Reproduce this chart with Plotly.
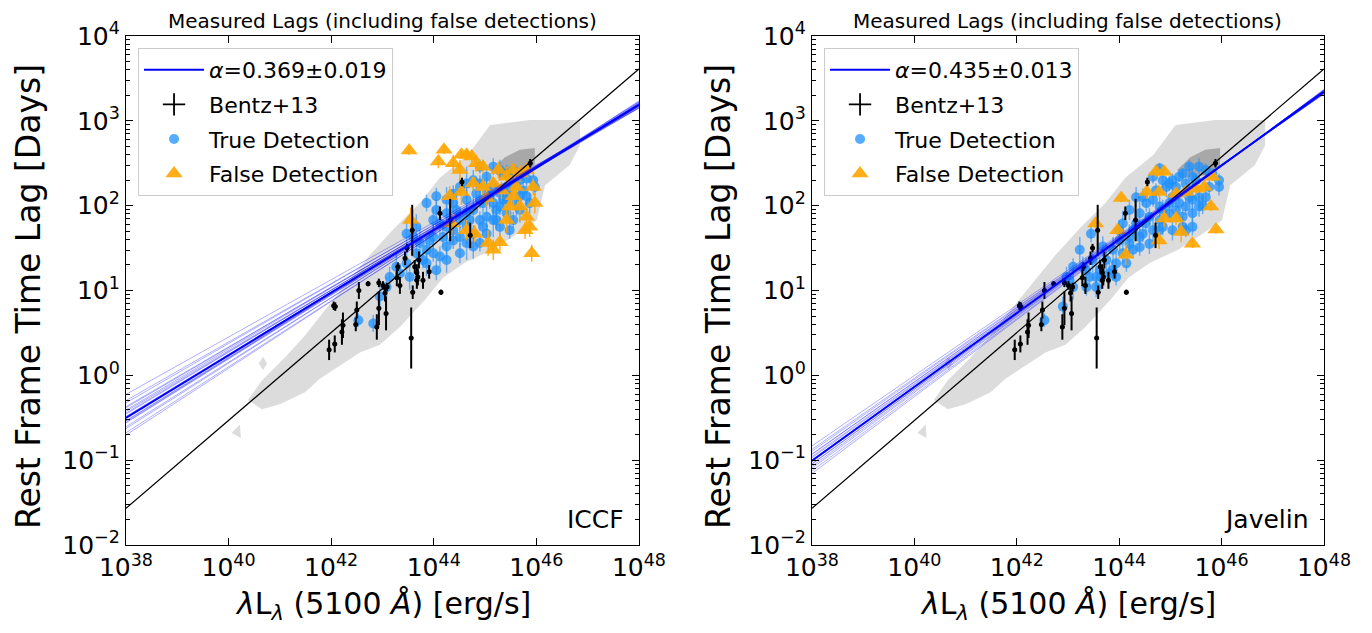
import numpy as np
import plotly.graph_objs as go

# ---- data (log10 values) ----
# Bentz+13 reverberation sample: log L5100, log tau, error (dex)
bentz_logL = [41.96, 42.07, 42.05, 42.08, 42.21, 42.23, 42.48, 42.50, 42.54, 42.72,
              42.89, 42.93, 42.93, 43.01, 43.07, 43.09, 43.05, 43.28, 43.30, 43.34,
              43.44, 43.48, 43.58, 43.59, 43.63, 43.67, 43.69, 43.67, 43.71, 43.79,
              43.91, 44.14, 44.12, 44.32, 44.55, 44.71, 45.88, 43.56]
bentz_logtau = [0.30, 0.37, 0.82, 0.81, 0.51, 0.59, 0.60, 0.77, 1.00, 1.08,
                0.57, 0.79, 1.09, 1.06, 0.73, 1.04, 0.97, 1.15, 1.28, 1.06,
                1.38, 1.50, 1.71, 0.98, 1.28, 1.21, 1.16, 1.12, 1.36, 1.12,
                1.22, 0.98, 1.91, 1.83, 2.28, 1.65, 2.50, 0.44]
bentz_err = [0.12, 0.10, 0.05, 0.05, 0.15, 0.15, 0.08, 0.10, 0.10, 0.03,
             0.15, 0.20, 0.05, 0.05, 0.20, 0.05, 0.10, 0.10, 0.05, 0.10,
             0.08, 0.05, 0.30, 0.08, 0.08, 0.10, 0.10, 0.10, 0.10, 0.10,
             0.08, 0.03, 0.08, 0.25, 0.05, 0.15, 0.05, 0.36]

# ICCF lags
iccf_true_logL = [44.05, 44.25, 44.38, 44.51, 44.64, 44.77, 44.90, 45.03, 45.16, 45.29,
                  45.42, 45.55, 45.68, 45.81, 45.94, 45.97, 44.90, 45.16, 45.29, 45.42,
                  45.55, 45.03, 43.99, 44.12, 44.25, 44.38, 44.51, 44.64, 44.77, 44.90,
                  45.03, 45.16, 45.29, 45.42, 45.55, 45.68, 45.81, 43.47, 43.60, 43.73,
                  43.86, 43.99, 44.12, 44.25, 44.38, 44.51, 44.64, 44.77, 44.90, 45.03,
                  43.86, 44.05, 43.79, 43.27, 43.34, 43.47, 43.53, 43.66, 43.14, 42.95,
                  42.82, 42.53, 43.08, 44.38, 44.64, 44.90, 45.16, 45.42, 45.68, 44.64,
                  45.29, 43.99, 44.25,
                  44.83, 44.96, 45.09, 45.22, 45.35, 45.48, 45.61, 45.74, 45.87, 44.70,
                  44.96, 45.22, 45.48, 44.44, 44.18, 43.92, 43.66, 44.05, 43.86, 44.25,
                  44.51, 44.77]
iccf_true_logtau = [2.11, 2.07, 2.03, 2.22, 2.26, 2.30, 2.26, 2.18, 2.22, 2.15,
                    2.22, 2.26, 2.30, 2.32, 2.30, 2.22, 2.46, 2.46, 2.42, 2.38,
                    2.42, 2.34, 1.83, 1.79, 1.75, 1.71, 1.83, 1.91, 1.95, 1.83,
                    1.87, 1.83, 1.99, 1.91, 1.83, 1.95, 2.11, 1.67, 1.63, 1.56,
                    1.48, 1.44, 1.40, 1.52, 1.59, 1.63, 1.56, 1.52, 1.56, 1.67,
                    1.32, 1.24, 1.36, 1.28, 1.20, 1.32, 1.16, 1.44, 1.16, 0.93,
                    0.61, 0.65, 1.04, 2.14, 2.07, 2.07, 2.03, 2.07, 2.11, 1.75,
                    1.75, 1.63, 1.91,
                    2.14, 2.03, 2.11, 1.95, 2.07, 2.14, 2.03, 2.18, 2.03, 1.83,
                    1.75, 1.83, 1.71, 1.95, 1.63, 1.59, 1.75, 1.95, 2.03, 1.36,
                    1.44, 1.67]
iccf_true_err = [0.10, 0.15, 0.12, 0.10, 0.20, 0.12, 0.10, 0.15, 0.12, 0.10,
                 0.10, 0.12, 0.15, 0.10, 0.08, 0.10, 0.08, 0.10, 0.12, 0.10,
                 0.08, 0.12, 0.15, 0.12, 0.20, 0.15, 0.10, 0.12, 0.15, 0.10,
                 0.12, 0.20, 0.10, 0.12, 0.10, 0.15, 0.10, 0.15, 0.12, 0.20,
                 0.15, 0.10, 0.12, 0.15, 0.10, 0.12, 0.20, 0.15, 0.10, 0.12,
                 0.15, 0.12, 0.10, 0.15, 0.10, 0.12, 0.15, 0.10, 0.12, 0.15,
                 0.10, 0.08, 0.12, 0.10, 0.12, 0.10, 0.15, 0.10, 0.12, 0.20,
                 0.12, 0.15, 0.10,
                 0.10, 0.12, 0.15, 0.10, 0.12, 0.10, 0.15, 0.10, 0.12, 0.15,
                 0.10, 0.12, 0.10, 0.15, 0.12, 0.10, 0.15, 0.12, 0.10, 0.15,
                 0.12, 0.10]
iccf_false_logL = [43.52, 44.20, 44.09, 44.38, 44.54, 44.64, 44.74, 44.83, 44.51, 44.96,
                   45.26, 45.42, 45.55, 45.68, 45.81, 45.94, 45.97, 44.54, 44.31, 44.96,
                   45.16, 45.55, 45.68, 45.48, 45.42, 45.81, 45.87, 45.78, 44.64, 44.80,
                   45.06, 45.29, 45.16, 45.91, 43.55, 44.35, 45.03, 44.77, 45.32, 45.61]
iccf_false_logtau = [2.65, 2.66, 2.52, 2.50, 2.60, 2.60, 2.58, 2.50, 2.42, 2.46,
                     2.42, 2.34, 2.42, 2.38, 2.42, 2.22, 2.03, 2.16, 2.11, 2.22,
                     2.26, 2.11, 1.99, 1.99, 1.83, 1.87, 1.75, 1.71, 1.71, 1.67,
                     1.56, 1.57, 1.48, 1.44, 1.83, 1.79, 2.09, 2.26, 2.18, 2.22]
iccf_false_err = [0.05, 0.05, 0.08, 0.10, 0.05, 0.06, 0.08, 0.10, 0.12, 0.08,
                  0.10, 0.12, 0.08, 0.10, 0.06, 0.10, 0.12, 0.15, 0.12, 0.10,
                  0.08, 0.12, 0.10, 0.12, 0.15, 0.10, 0.12, 0.10, 0.12, 0.10,
                  0.15, 0.10, 0.12, 0.10, 0.15, 0.12, 0.10, 0.08, 0.10, 0.08]

# Javelin lags
jav_true_logL = [44.66, 44.85, 45.04, 45.24, 45.37, 45.56, 45.69, 45.82, 45.95, 45.95,
                 45.11, 44.92, 45.30, 45.43, 44.79, 44.33, 44.53, 44.66, 44.79, 44.98,
                 45.17, 45.30, 45.43, 45.56, 45.69, 44.20, 44.40, 44.59, 44.79, 44.98,
                 45.24, 45.43, 45.56, 45.43, 45.30, 45.04, 44.07, 44.27, 44.46, 44.66,
                 44.85, 44.01, 44.20, 44.40, 44.59, 43.88, 44.07, 44.27, 43.75, 43.94,
                 44.14, 43.62, 43.81, 43.42, 43.23, 43.45, 43.29, 43.10, 42.97, 43.10,
                 43.36, 42.90, 42.54, 43.65, 43.55, 43.94,
                 44.98, 45.17, 45.50, 45.76, 44.72, 44.46, 45.04, 45.37, 45.63, 44.85,
                 45.11, 44.52, 44.78, 44.33, 44.00, 44.20, 44.40, 43.68, 43.48, 43.87,
                 43.35, 43.03, 43.55, 45.24]
jav_true_logtau = [2.34, 2.30, 2.30, 2.38, 2.46, 2.46, 2.42, 2.38, 2.30, 2.22,
                   2.22, 2.22, 2.26, 2.34, 2.44, 2.10, 2.03, 2.07, 1.99, 2.03,
                   2.03, 1.99, 2.07, 2.10, 2.10, 1.95, 1.91, 1.87, 1.83, 1.91,
                   1.87, 1.91, 1.99, 1.75, 1.71, 1.71, 1.79, 1.71, 1.67, 1.71,
                   1.75, 1.59, 1.55, 1.51, 1.55, 1.48, 1.44, 1.48, 1.36, 1.32,
                   1.32, 1.24, 1.20, 1.16, 1.48, 1.67, 1.28, 1.28, 1.16, 1.04,
                   1.04, 0.81, 0.65, 1.16, 1.04, 1.16,
                   2.26, 2.34, 2.30, 2.22, 2.18, 2.10, 2.10, 2.10, 2.00, 1.95,
                   1.95, 1.79, 1.71, 1.79, 1.71, 1.63, 1.63, 1.52, 1.36, 1.24,
                   1.24, 1.12, 1.16, 1.75]
jav_true_err = [0.08, 0.10, 0.08, 0.06, 0.08, 0.10, 0.08, 0.06, 0.08, 0.10,
                0.10, 0.12, 0.08, 0.10, 0.06, 0.12, 0.10, 0.08, 0.12, 0.10,
                0.08, 0.10, 0.12, 0.08, 0.10, 0.12, 0.15, 0.10, 0.12, 0.10,
                0.08, 0.10, 0.12, 0.10, 0.08, 0.12, 0.15, 0.12, 0.10, 0.15,
                0.10, 0.12, 0.15, 0.10, 0.12, 0.15, 0.12, 0.10, 0.15, 0.12,
                0.10, 0.15, 0.12, 0.12, 0.15, 0.10, 0.12, 0.10, 0.12, 0.15,
                0.10, 0.12, 0.08, 0.15, 0.12, 0.10,
                0.08, 0.06, 0.08, 0.10, 0.08, 0.10, 0.12, 0.08, 0.10, 0.12,
                0.10, 0.12, 0.15, 0.10, 0.12, 0.15, 0.10, 0.12, 0.15, 0.12,
                0.15, 0.12, 0.15, 0.10]
jav_false_logL = [44.04, 43.54, 43.97, 44.13, 44.54, 44.78, 44.72, 44.88, 45.11, 44.88,
                  45.11, 45.21, 44.78, 45.43, 45.79, 45.89, 45.50, 45.66, 45.82, 45.30]
jav_false_logtau = [2.09, 1.79, 1.71, 1.42, 2.16, 2.16, 2.40, 2.40, 2.14, 1.85,
                    1.85, 1.69, 1.59, 1.55, 1.99, 1.72, 2.20, 2.22, 2.34, 2.16]
jav_false_err = [0.05, 0.06, 0.08, 0.12, 0.08, 0.06, 0.06, 0.05, 0.06, 0.10,
                 0.08, 0.12, 0.10, 0.05, 0.05, 0.05, 0.06, 0.06, 0.05, 0.06]

# simulated population density (log L, log tau outlines)
pop_outer_logL = [40.38, 40.65, 41.10, 41.49, 41.88, 42.27, 42.76, 43.24, 43.73, 44.12,
                  44.67, 45.10, 45.88, 46.85, 46.85, 46.65, 46.17, 46.01, 45.68, 45.15,
                  44.61, 44.18, 43.83, 43.34, 42.95, 42.56, 42.17, 41.78, 41.49, 41.00, 40.65]
pop_outer_logtau = [-0.29, -0.06, 0.21, 0.47, 0.77, 1.06, 1.42, 1.74, 2.03, 2.33,
                    2.60, 2.95, 3.01, 3.01, 2.71, 2.48, 2.24, 1.83, 1.69, 1.48,
                    1.33, 1.15, 0.89, 0.57, 0.36, 0.27, 0.12, -0.04, -0.20, -0.34, -0.40]
pop_blob1_logL = [40.59, 40.67, 40.75, 40.67]
pop_blob1_logtau = [0.14, 0.22, 0.14, 0.06]
pop_blob2_logL = [40.06, 40.22, 40.24]
pop_blob2_logtau = [-0.68, -0.58, -0.74]
pop_inner_logL = [45.13, 45.39, 45.68, 45.97, 45.97, 45.68, 45.29]
pop_inner_logtau = [2.42, 2.57, 2.66, 2.68, 2.48, 2.36, 2.33]

# relations: log tau at L = 10^44 and slope
bentz_K, bentz_alpha = 1.54, 0.518
iccf_K, iccf_alpha = 1.712, 0.369
jav_K, jav_alpha = 1.604, 0.435
# posterior draws: slope, log tau at L=10^45.5
iccf_draw_alpha = [0.338, 0.345, 0.350, 0.352, 0.355, 0.358, 0.360, 0.362, 0.365, 0.366,
                   0.368, 0.371, 0.372, 0.374, 0.376, 0.378, 0.381, 0.385, 0.389, 0.394]
iccf_draw_K = [2.31, 2.29, 2.30, 2.27, 2.28, 2.26, 2.29, 2.27, 2.28, 2.26,
               2.27, 2.28, 2.25, 2.27, 2.26, 2.28, 2.25, 2.26, 2.24, 2.25]
jav_draw_alpha = [0.415, 0.419, 0.422, 0.425, 0.427, 0.429, 0.431, 0.433, 0.435, 0.437,
                  0.439, 0.441, 0.443, 0.446, 0.449, 0.453]
jav_draw_K = [2.28, 2.27, 2.27, 2.26, 2.27, 2.26, 2.26, 2.25, 2.26, 2.26,
              2.25, 2.26, 2.25, 2.25, 2.24, 2.24]

x_ticks = [38, 40, 42, 44, 46, 48]
y_ticks = [-2, -1, 0, 1, 2, 3, 4]

BLUE_PT = "rgba(30,144,255,0.75)"
ORANGE = "rgba(255,165,0,0.9)"
GRAY = "#dcdcdc"
DARK_GRAY = "#a8a8a8"
FONT = "DejaVu Sans"


def lin(v):
    return [10.0 ** a for a in v]


def errs(y, e):
    plus = [10.0 ** (a + b) - 10.0 ** a for a, b in zip(y, e)]
    minus = [10.0 ** a - 10.0 ** (a - b) for a, b in zip(y, e)]
    return plus, minus


def line_y(K, a, piv, lx):
    return [10.0 ** (K + a * (v - piv)) for v in lx]


L_END = [38.0, 48.0]
data = []


def panel(xa, ya, leg, true_x, true_y, true_e, false_x, false_y, false_e,
          fitK, fita, drawA, drawK, alpha_label):
    ax = dict(xaxis=xa, yaxis=ya)
    # population density
    for px, py, col in [(pop_outer_logL, pop_outer_logtau, GRAY),
                        (pop_blob1_logL, pop_blob1_logtau, GRAY),
                        (pop_blob2_logL, pop_blob2_logtau, GRAY),
                        (pop_inner_logL, pop_inner_logtau, DARK_GRAY)]:
        data.append(go.Scatter(x=lin(px), y=lin(py), fill="toself", fillcolor=col,
                               mode="lines", line=dict(width=0, color=col),
                               showlegend=False, hoverinfo="skip", **ax))
    p, m = errs(true_y, true_e)
    data.append(go.Scatter(
        x=lin(true_x), y=lin(true_y), mode="markers",
        marker=dict(color=BLUE_PT, size=10, line=dict(width=0)),
        error_y=dict(type="data", array=p, arrayminus=m, color="rgba(30,144,255,0.6)",
                     thickness=1.5, width=0),
        name="True Detection", legend=leg, legendrank=3, legendgroup="c", **ax))
    p, m = errs(false_y, false_e)
    data.append(go.Scatter(
        x=lin(false_x), y=lin(false_y), mode="markers",
        marker=dict(color=ORANGE, size=15, symbol="triangle-up", line=dict(width=0)),
        error_y=dict(type="data", array=p, arrayminus=m, color=ORANGE,
                     thickness=1.5, width=0),
        name="False Detection", legend=leg, legendrank=4, legendgroup="d", **ax))
    p, m = errs(bentz_logtau, bentz_err)
    px_, mx_ = errs(bentz_logL, [0.04] * len(bentz_logL))
    data.append(go.Scatter(
        x=lin(bentz_logL), y=lin(bentz_logtau), mode="markers",
        marker=dict(color="black", size=5),
        error_y=dict(type="data", array=p, arrayminus=m, color="black",
                     thickness=2, width=0),
        error_x=dict(type="data", array=px_, arrayminus=mx_, color="black",
                     thickness=1.5, width=0),
        showlegend=False, **ax))
    data.append(go.Scatter(
        x=[None], y=[None], mode="markers",
        marker=dict(symbol="cross-thin", size=24, line=dict(width=1.8, color="black")),
        name="Bentz+13", legend=leg, legendrank=2, legendgroup="b", **ax))
    # Bentz relation
    data.append(go.Scatter(x=lin(L_END), y=line_y(bentz_K, bentz_alpha, 44, L_END),
                           mode="lines", line=dict(color="black", width=1.3),
                           showlegend=False, hoverinfo="skip", **ax))
    for a, k in zip(drawA, drawK):
        data.append(go.Scatter(x=lin(L_END), y=line_y(k, a, 45.5, L_END), mode="lines",
                               line=dict(color="rgba(0,0,255,0.4)", width=0.8),
                               showlegend=False, hoverinfo="skip", **ax))
    data.append(go.Scatter(x=lin(L_END), y=line_y(fitK, fita, 44, L_END), mode="lines",
                           line=dict(color="#0000ff", width=2),
                           name=alpha_label, legend=leg, legendrank=1, legendgroup="a", **ax))


panel("x", "y", "legend", iccf_true_logL, iccf_true_logtau, iccf_true_err,
      iccf_false_logL, iccf_false_logtau, iccf_false_err,
      iccf_K, iccf_alpha, iccf_draw_alpha, iccf_draw_K, "<i>α</i>=0.369±0.019")
panel("x2", "y2", "legend2", jav_true_logL, jav_true_logtau, jav_true_err,
      jav_false_logL, jav_false_logtau, jav_false_err,
      jav_K, jav_alpha, jav_draw_alpha, jav_draw_K, "<i>α</i>=0.435±0.013")


def xaxis(dom, anchor):
    return dict(type="log", range=[38, 48], domain=dom, anchor=anchor, automargin=False,
                tickvals=[10.0 ** t for t in x_ticks],
                ticktext=["10<sup>%d</sup>" % t for t in x_ticks],
                ticks="inside", ticklen=7, tickwidth=1, tickcolor="black",
                showline=True, linecolor="black", linewidth=1.2, mirror="allticks",
                showgrid=False, zeroline=False,
                tickfont=dict(family=FONT, size=25, color="black"))


minor_y = [m * 10.0 ** k for k in range(-2, 4) for m in range(2, 10)]


def yaxis(anchor):
    return dict(type="log", range=[-2, 4], domain=[0.1297, 0.9546], anchor=anchor,
                automargin=False,
                tickvals=[10.0 ** t for t in y_ticks],
                ticktext=["10<sup>%s</sup>" % str(t).replace("-", "−") for t in y_ticks],
                ticks="inside", ticklen=7, tickwidth=1, tickcolor="black",
                minor=dict(tickvals=minor_y, ticks="inside", ticklen=4,
                           tickcolor="black", tickwidth=1, showgrid=False),
                showline=True, linecolor="black", linewidth=1.2, mirror="allticks",
                showgrid=False, zeroline=False,
                tickfont=dict(family=FONT, size=25, color="black"))


def legend(x):
    return dict(x=x, y=0.9352, xanchor="left", yanchor="top",
                bgcolor="rgba(255,255,255,0.85)", bordercolor="#cccccc", borderwidth=1,
                font=dict(family=FONT, size=22, color="black"),
                itemwidth=60, tracegroupgap=3, traceorder="grouped")


annotations = []
for cx, yx, tag, tx in [(0.2762, 0.0148, "ICCF", 0.4558), (0.7817, 0.5236, "Javelin", 0.9609)]:
    annotations.append(dict(text="Measured Lags (including false detections)", x=cx, y=0.9792,
                            xref="paper", yref="paper", showarrow=False,
                            xanchor="center", yanchor="middle",
                            font=dict(family=FONT, size=20, color="black")))
    annotations.append(dict(text="<i>λ</i>L<sub><i>λ</i></sub> (5100 <i>Å</i>) [erg/s]",
                            x=cx, y=0.0324, xref="paper", yref="paper", showarrow=False,
                            xanchor="center", yanchor="middle",
                            font=dict(family=FONT, size=30, color="black")))
    annotations.append(dict(text="Rest Frame Time Lag [Days]", x=yx, y=0.5316, textangle=-90,
                            xref="paper", yref="paper", showarrow=False,
                            xanchor="center", yanchor="middle",
                            font=dict(family=FONT, size=33, color="black")))
    annotations.append(dict(text=tag, x=tx, y=0.1702, xref="paper", yref="paper",
                            xanchor="right", yanchor="middle", showarrow=False,
                            font=dict(family=FONT, size=25, color="black")))

layout = go.Layout(
    width=1356, height=617,
    template="none",
    margin=dict(l=0, r=0, t=0, b=0, autoexpand=False),
    paper_bgcolor="white", plot_bgcolor="white",
    xaxis=xaxis([0.0870, 0.4653], "y"),
    yaxis=yaxis("x"),
    xaxis2=xaxis([0.5929, 0.9705], "y2"),
    yaxis2=yaxis("x2"),
    legend=legend(0.0959),
    legend2=legend(0.6018),
    annotations=annotations,
    font=dict(family=FONT),
)

fig = go.Figure(data=data, layout=layout)
fig.write_html("out.html")
